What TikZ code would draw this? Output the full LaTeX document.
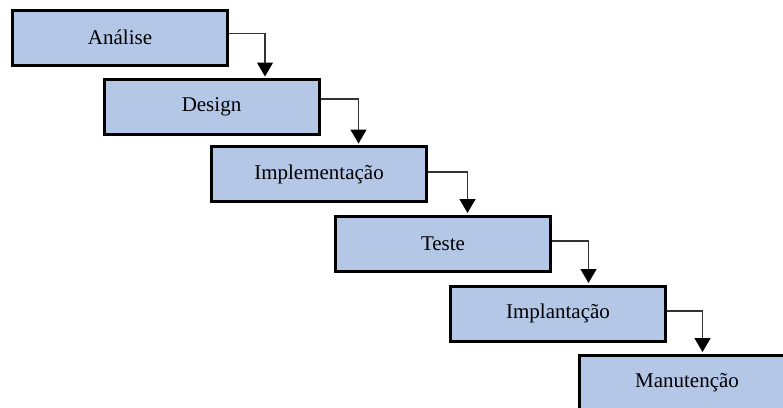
\documentclass[tikz,border=0pt]{standalone}
\usepackage{fontspec}
\setmainfont{Liberation Serif}
\usetikzlibrary{arrows.meta}
\definecolor{phasefill}{HTML}{B4C7E7}
\definecolor{linkgray}{HTML}{333333}
\begin{document}
\begin{tikzpicture}[x=1pt,y=-1pt,
  phase/.style={draw=black, line width=3pt, fill=phasefill,
    minimum width=215pt, minimum height=55pt, inner sep=0pt,
    font=\fontsize{21}{24}\selectfont},
  link/.style={draw=linkgray, line width=1.4pt,
    -{Triangle[width=16pt,length=14pt,color=black]}}]
\useasboundingbox (0,0) rectangle (783,407);
\clip (0,0) rectangle (783,407);
\node[phase] (a) at (120,37.5)  {Análise};
\node[phase] (b) at (211.5,107) {Design};
\node[phase] (c) at (319,174)   {Implementação};
\node[phase] (d) at (443,243.5) {Teste};
\node[phase] (e) at (558,313.5) {Implantação};
\node[phase] (f) at (687,382.5) {Manutenção};
\draw[link] ([yshift=4pt]a.east) -| ([xshift=162.5pt,yshift=1.5pt]b.north west);
\draw[link] ([yshift=8pt]b.east) -| ([xshift=148.5pt,yshift=1.5pt]c.north west);
\draw[link] ([yshift=2pt]c.east) -| ([xshift=133.5pt,yshift=1.5pt]d.north west);
\draw[link] ([yshift=2.5pt]d.east) -| ([xshift=139.5pt,yshift=1.5pt]e.north west);
\draw[link] ([yshift=2.5pt]e.east) -| ([xshift=124.5pt,yshift=1.5pt]f.north west);
\end{tikzpicture}
\end{document}
